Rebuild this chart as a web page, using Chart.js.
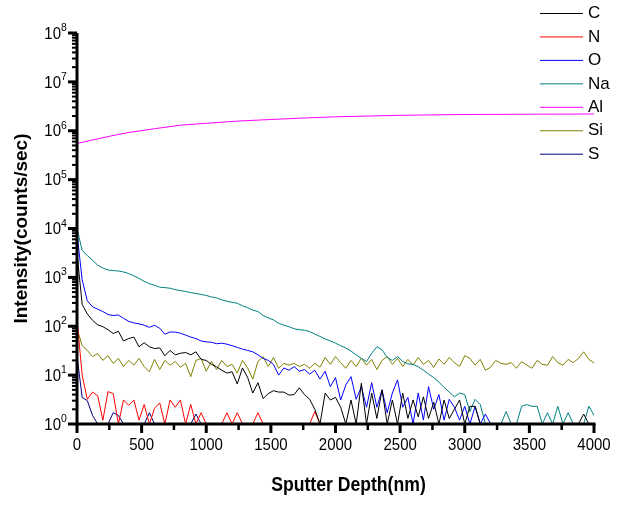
<!DOCTYPE html>
<html><head><meta charset="utf-8">
<script src="https://cdn.jsdelivr.net/npm/chart.js@4.4.0/dist/chart.umd.min.js"></script>
<style>html,body{margin:0;padding:0;background:#fff;}canvas{display:block;}</style>
</head><body>
<canvas id="c" width="634" height="516"></canvas>
<script>
// ---- data ----
const depth = [0,40,80,120,160,200,240,280,320,360,400,440,480,520,560,600,640,680,720,760,800,840,880,920,960,1000,1040,1080,1120,1160,1200,1240,1280,1320,1360,1400,1440,1480,1520,1560,1600,1640,1680,1720,1760,1800,1840,1880,1920,1960,2000,2040,2080,2120,2160,2200,2240,2280,2320,2360,2400,2440,2480,2520,2560,2600,2640,2680,2720,2760,2800,2840,2880,2920,2960,3000,3040,3080,3120,3160,3200,3240,3280,3320,3360,3400,3440,3480,3520,3560,3600,3640,3680,3720,3760,3800,3840,3880,3920,3960,4000];
const seriesC = [3200,280,178,132,107,98,85,71,79,50, 56,60,38,46,38,35,36,25,32,26, 28,29,26,30,21,20,16.6,14.8,12.6,11, 11.7,6.6,14,9,4.3,7,3.3,4.2,4.8,4.5, 4.5,3.9,4,5.5,4,3.2,2,1,4.3,3.1, 3.5,2.2,1,3.1,1,6.8,1,4.3,1.3,5, 1,3.1,1,4.3,1.3,3.1,1.4,3.6,1.3,2.8, 1,3.1,1.3,2,3.1,1,2.3,2.3,1,1, 1,1,1,1,1,1,1,1,1,1, 1,1,1,1,1,1,1,1,1.6,1, 1];
const seriesN = [140,10,3.2,4.5,3.8,1.2,4.6,4.2,1,3.1, 2.4,3.1,1.2,2.5,1,2.1,2.7,1,3.1,2.2, 3.1,1,2.5,1,1.7,1,1,1,1,1.7, 1,1.7,1,1,1,1.7,1,1,1,1, 1,1,1,1,1,1,1.8,1,1,1, 1,1,1,1,1,1,1,1,1,1, 1,1,1,1,1,1,1,1,1,1, 1,1,1,1,1,1,1,1,1,1, 1,1,1,1,1,1,1,1,1,1, 1,1,1,1,1,1,1,1,1,1, 1];
const seriesO = [8000,890,330,250,224,200,174,166,170,145, 126,117,112,105,95,105,91,69,76,76, 72,66,60,56,50,48,47,44,45,43, 40,37,34,32,30,26,22,20,16.6,10, 14,12.6,15,12,13,10.5,12.6,8.3,12,5.8, 8.9,3.1,6.3,9.3,3.2,5.8,2.2,7,2.2,5, 1.7,4.3,8,2.2,3.5,1,4.3,1.2,5.8,2, 4,1.2,3.2,2.2,1.2,2.3,1,2.3,1,1.6, 1,1,1,1,1,1,1,1,1,1, 1,1,1,1,1,1,1,1,1,1, 1];
const seriesNa = [10000,3550,2800,2240,1780,1550,1410,1380,1350,1290, 1200,1070,955,830,740,690,630,617,600,560, 537,513,490,468,447,427,398,380,347,324, 309,295,263,240,214,200,166,148,135,115, 105,98,89,85,83,78,69,62,55,50, 45,40,36,31,26,22,19,28,38,33, 23,20,24,19,17,16.6,14.8,12.6,10.5,8.9, 7.2,5.6,4.5,3.6,4.3,4,1.8,3.2,2.5,1, 1,1,1,1.8,1,1,2.3,2.5,2.3,2.3, 1,1.7,1,2.3,1,1.7,1,1,1,2.3, 1.5];
const alDepth = [0,100,200,300,400,600,800,1000,1250,1500,1750,2000,2500,3000,3500,4000];
const seriesAl = [550000,630000,720000,820000,920000,1100000,1300000,1420000,1580000,1700000,1820000,1930000,2070000,2150000,2180000,2200000];
const seriesSi = [90,40,32,24,27.5,20,25,17.4,22,15, 20,16,22,15,11.7,21,13,20,16,19, 14.5,17.4,9.3,20,22,12,19,13,20,15, 16.6,11,20,14,8.3,19,24,15,23,13.8, 17.4,16,17.4,15,16.6,13.8,17.4,14.5,23,16.6, 24,18,13.8,20,15,22.4,16,21,13,20, 24,16.6,22,15,21,16,23,16.6,20,14.5, 21.4,16.6,23,18,15,25,22,16,21,12.6, 14.5,20,17.4,16.6,18,13.8,19,16,13.8,20, 16.6,16,24,18,16,21,18,22,30,21, 17.8];
const seriesS = [25,3.5,3,1.5,1,1,1,1.7,1.5,1, 1,1,1,1,1.7,1,1,1,1,1, 1,1,1,1.6,1,1,1,1,1,1, 1,1,1,1,1,1,1,1,1,1, 1,1,1,1,1,1,1,1,1,1, 1,1,1,1,1,1,1,1,1,1, 1,1,1,1,1,1,1,1,1,1, 1,1,1,1,1,1,1,1,1,1, 1,1,1,1,1,1,1,1,1,1, 1,1,1,1,1,1,1,1,1,1, 1];
const seriesNames = ['C','N','O','Na','Al','Si','S'];
const seriesColors = ['#000000','#ff0000','#0000ff','#008080','#ff00ff','#808000','#000080'];
const xMajorTicks = [0,500,1000,1500,2000,2500,3000,3500,4000];
const xMinorTicks = [250,750,1250,1750,2250,2750,3250,3750];
const yExponents = [0,1,2,3,4,5,6,7,8];
const yMinorFactors = [2,3,4,5,6,7,8,9];
const xTitle = 'Sputter Depth(nm)';
const yTitle = 'Intensity(counts/sec)';

function pts(xs, ys){ return xs.map((x,i)=>({x:x, y:ys[i]})); }
const seriesData = [
  pts(depth, seriesC), pts(depth, seriesN), pts(depth, seriesO), pts(depth, seriesNa),
  pts(alDepth, seriesAl), pts(depth, seriesSi), pts(depth, seriesS)
];

const FONT = '"Liberation Sans", Arial, sans-serif';
function sText(ctx, txt, x, y, font, align, sx){
  ctx.save();
  ctx.font = font;
  ctx.textBaseline = 'middle';
  ctx.translate(x, y);
  ctx.scale(sx, 1);
  ctx.textAlign = align;
  ctx.fillText(txt, 0, 0);
  ctx.restore();
}

const decor = {
  id: 'decor',
  afterDatasetsDraw(chart){
    const ctx = chart.ctx, a = chart.chartArea, xs = chart.scales.x, ys = chart.scales.y;
    ctx.save();
    ctx.strokeStyle = '#000'; ctx.fillStyle = '#000'; ctx.lineCap = 'butt';
    const ln = (x1,y1,x2,y2)=>{ctx.beginPath();ctx.moveTo(x1,y1);ctx.lineTo(x2,y2);ctx.stroke();};
    // x ticks
    ctx.lineWidth = 3;
    xMajorTicks.forEach(v=>{const p=xs.getPixelForValue(v); ln(p,a.bottom,p,a.bottom+9);});
    ctx.lineWidth = 2.5;
    xMinorTicks.forEach(v=>{const p=xs.getPixelForValue(v); ln(p,a.bottom,p,a.bottom+6);});
    // y ticks
    yExponents.forEach(e=>{
      ctx.lineWidth = 3;
      const p = ys.getPixelForValue(Math.pow(10,e)); ln(a.left,p,a.left-9,p);
      if (e < 8) {
        ctx.lineWidth = 2;
        yMinorFactors.forEach(f=>{const q=ys.getPixelForValue(f*Math.pow(10,e)); ln(a.left,q,a.left-5,q);});
      }
    });
    // axis lines
    ctx.lineWidth = 3;
    ln(a.left, a.top, a.left, a.bottom+1.5);
    ln(a.left-1.5, a.bottom, a.right+1.5, a.bottom);
    // x labels
    xMajorTicks.forEach(v=>{
      sText(ctx, String(v), xs.getPixelForValue(v), a.bottom+21, '17px '+FONT, 'center', 0.88);
    });
    // y labels with superscripts
    yExponents.forEach(e=>{
      const p = ys.getPixelForValue(Math.pow(10,e));
      sText(ctx, '10', a.left-16, p+1, '17px '+FONT, 'right', 0.88);
      sText(ctx, String(e), a.left-16, p-5, '11px '+FONT, 'left', 0.95);
    });
    // axis titles
    sText(ctx, xTitle, (a.left+a.right)/2+13, 485, 'bold 20px '+FONT, 'center', 0.88);
    ctx.save();
    ctx.translate(22, (a.top+a.bottom)/2);
    ctx.rotate(-Math.PI/2);
    sText(ctx, yTitle, 0, 0, 'bold 19px '+FONT, 'center', 1);
    ctx.restore();
    // legend
    seriesNames.forEach((n,i)=>{
      const yy = 13.5 + i*23.45;
      ctx.strokeStyle = seriesColors[i]; ctx.lineWidth = 1;
      ln(540, yy, 583, yy);
      sText(ctx, n, 588, yy, '17px '+FONT, 'left', 1);
    });
    ctx.restore();
  }
};

new Chart(document.getElementById('c'), {
  type: 'line',
  data: {
    datasets: seriesNames.map((n,i)=>({
      label: n, data: seriesData[i], borderColor: seriesColors[i], backgroundColor: seriesColors[i],
      borderWidth: 1, pointRadius: 0, tension: 0, fill: false
    }))
  },
  options: {
    responsive: false, animation: false, devicePixelRatio: 1,
    layout: { padding: { left: 0, right: 40, top: 33, bottom: 0 } },
    plugins: { legend: { display: false }, tooltip: { enabled: false }, title: { display: false } },
    scales: {
      x: { type: 'linear', min: 0, max: 4000,
           grid: { display: false }, border: { display: false }, ticks: { display: false },
           afterFit: s => { s.height = 92; } },
      y: { type: 'logarithmic', min: 1, max: 1e8,
           grid: { display: false }, border: { display: false }, ticks: { display: false },
           afterFit: s => { s.width = 77; } }
    }
  },
  plugins: [decor]
});
</script>
</body></html>
